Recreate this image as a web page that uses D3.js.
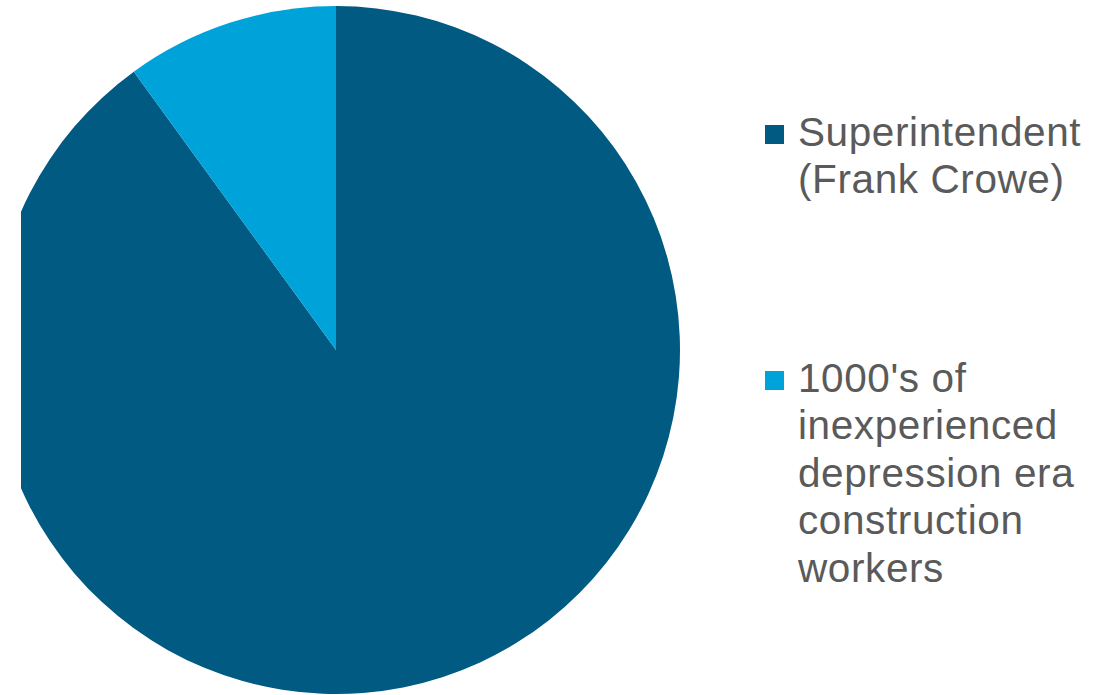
<!DOCTYPE html>
<html>
<head>
<meta charset="utf-8">
<script src="https://cdn.jsdelivr.net/npm/d3@7"></script>
<style>
  body { margin: 0; background: #fff; }
</style>
</head>
<body>
<div id="chart-area"></div>
<script>
var width = 1112;
var height = 695;

// data
var categories = ["Superintendent (Frank Crowe)", "1000's of inexperienced depression era construction workers"];
var values = [90, 10];
var legendLines = [
    ["Superintendent", "(Frank Crowe)"],
    ["1000's of", "inexperienced", "depression era", "construction", "workers"]
];
var colors = ["#005A82", "#00A2DA"];

var cx = 336, cy = 350, radius = 344;

var svg = d3.select("#chart-area").append("svg")
    .attr("width", width)
    .attr("height", height);

svg.append("clipPath")
    .attr("id", "plotClip")
    .append("rect")
    .attr("x", 21)
    .attr("y", 0)
    .attr("width", width)
    .attr("height", height);

var pie = d3.pie().sort(null).value((d) => d.value);
var arc = d3.arc().innerRadius(0).outerRadius(radius);

var info = categories.map((c, i) => ({ name: c, value: values[i], color: colors[i] }));

var g = svg.append("g")
    .attr("clip-path", "url(#plotClip)")
    .append("g")
    .attr("transform", "translate(" + cx + "," + cy + ")");

g.selectAll("path").data(pie(info))
    .enter().append("path")
    .attr("d", arc)
    .attr("fill", (d) => d.data.color);

// legend
var legendX = 765;
var legendTops = [125, 371];
var lineH = 47.6;

var legend = svg.selectAll(".legend").data(info)
    .enter().append("g")
    .attr("class", "legend");

legend.append("rect")
    .attr("x", legendX)
    .attr("y", (d, i) => legendTops[i])
    .attr("width", 19)
    .attr("height", 19)
    .attr("fill", (d) => d.color);

legend.each(function(d, i) {
    var t = d3.select(this).append("text")
        .attr("font-family", "Liberation Sans, Arial, sans-serif")
        .attr("font-size", 40.5)
        .attr("letter-spacing", 0.6)
        .attr("fill", "#5a5a5a");
    legendLines[i].forEach((line, j) => {
        t.append("tspan")
            .attr("x", 798)
            .attr("y", legendTops[i] + 20.5 + j * lineH)
            .text(line);
    });
});
</script>
</body>
</html>
